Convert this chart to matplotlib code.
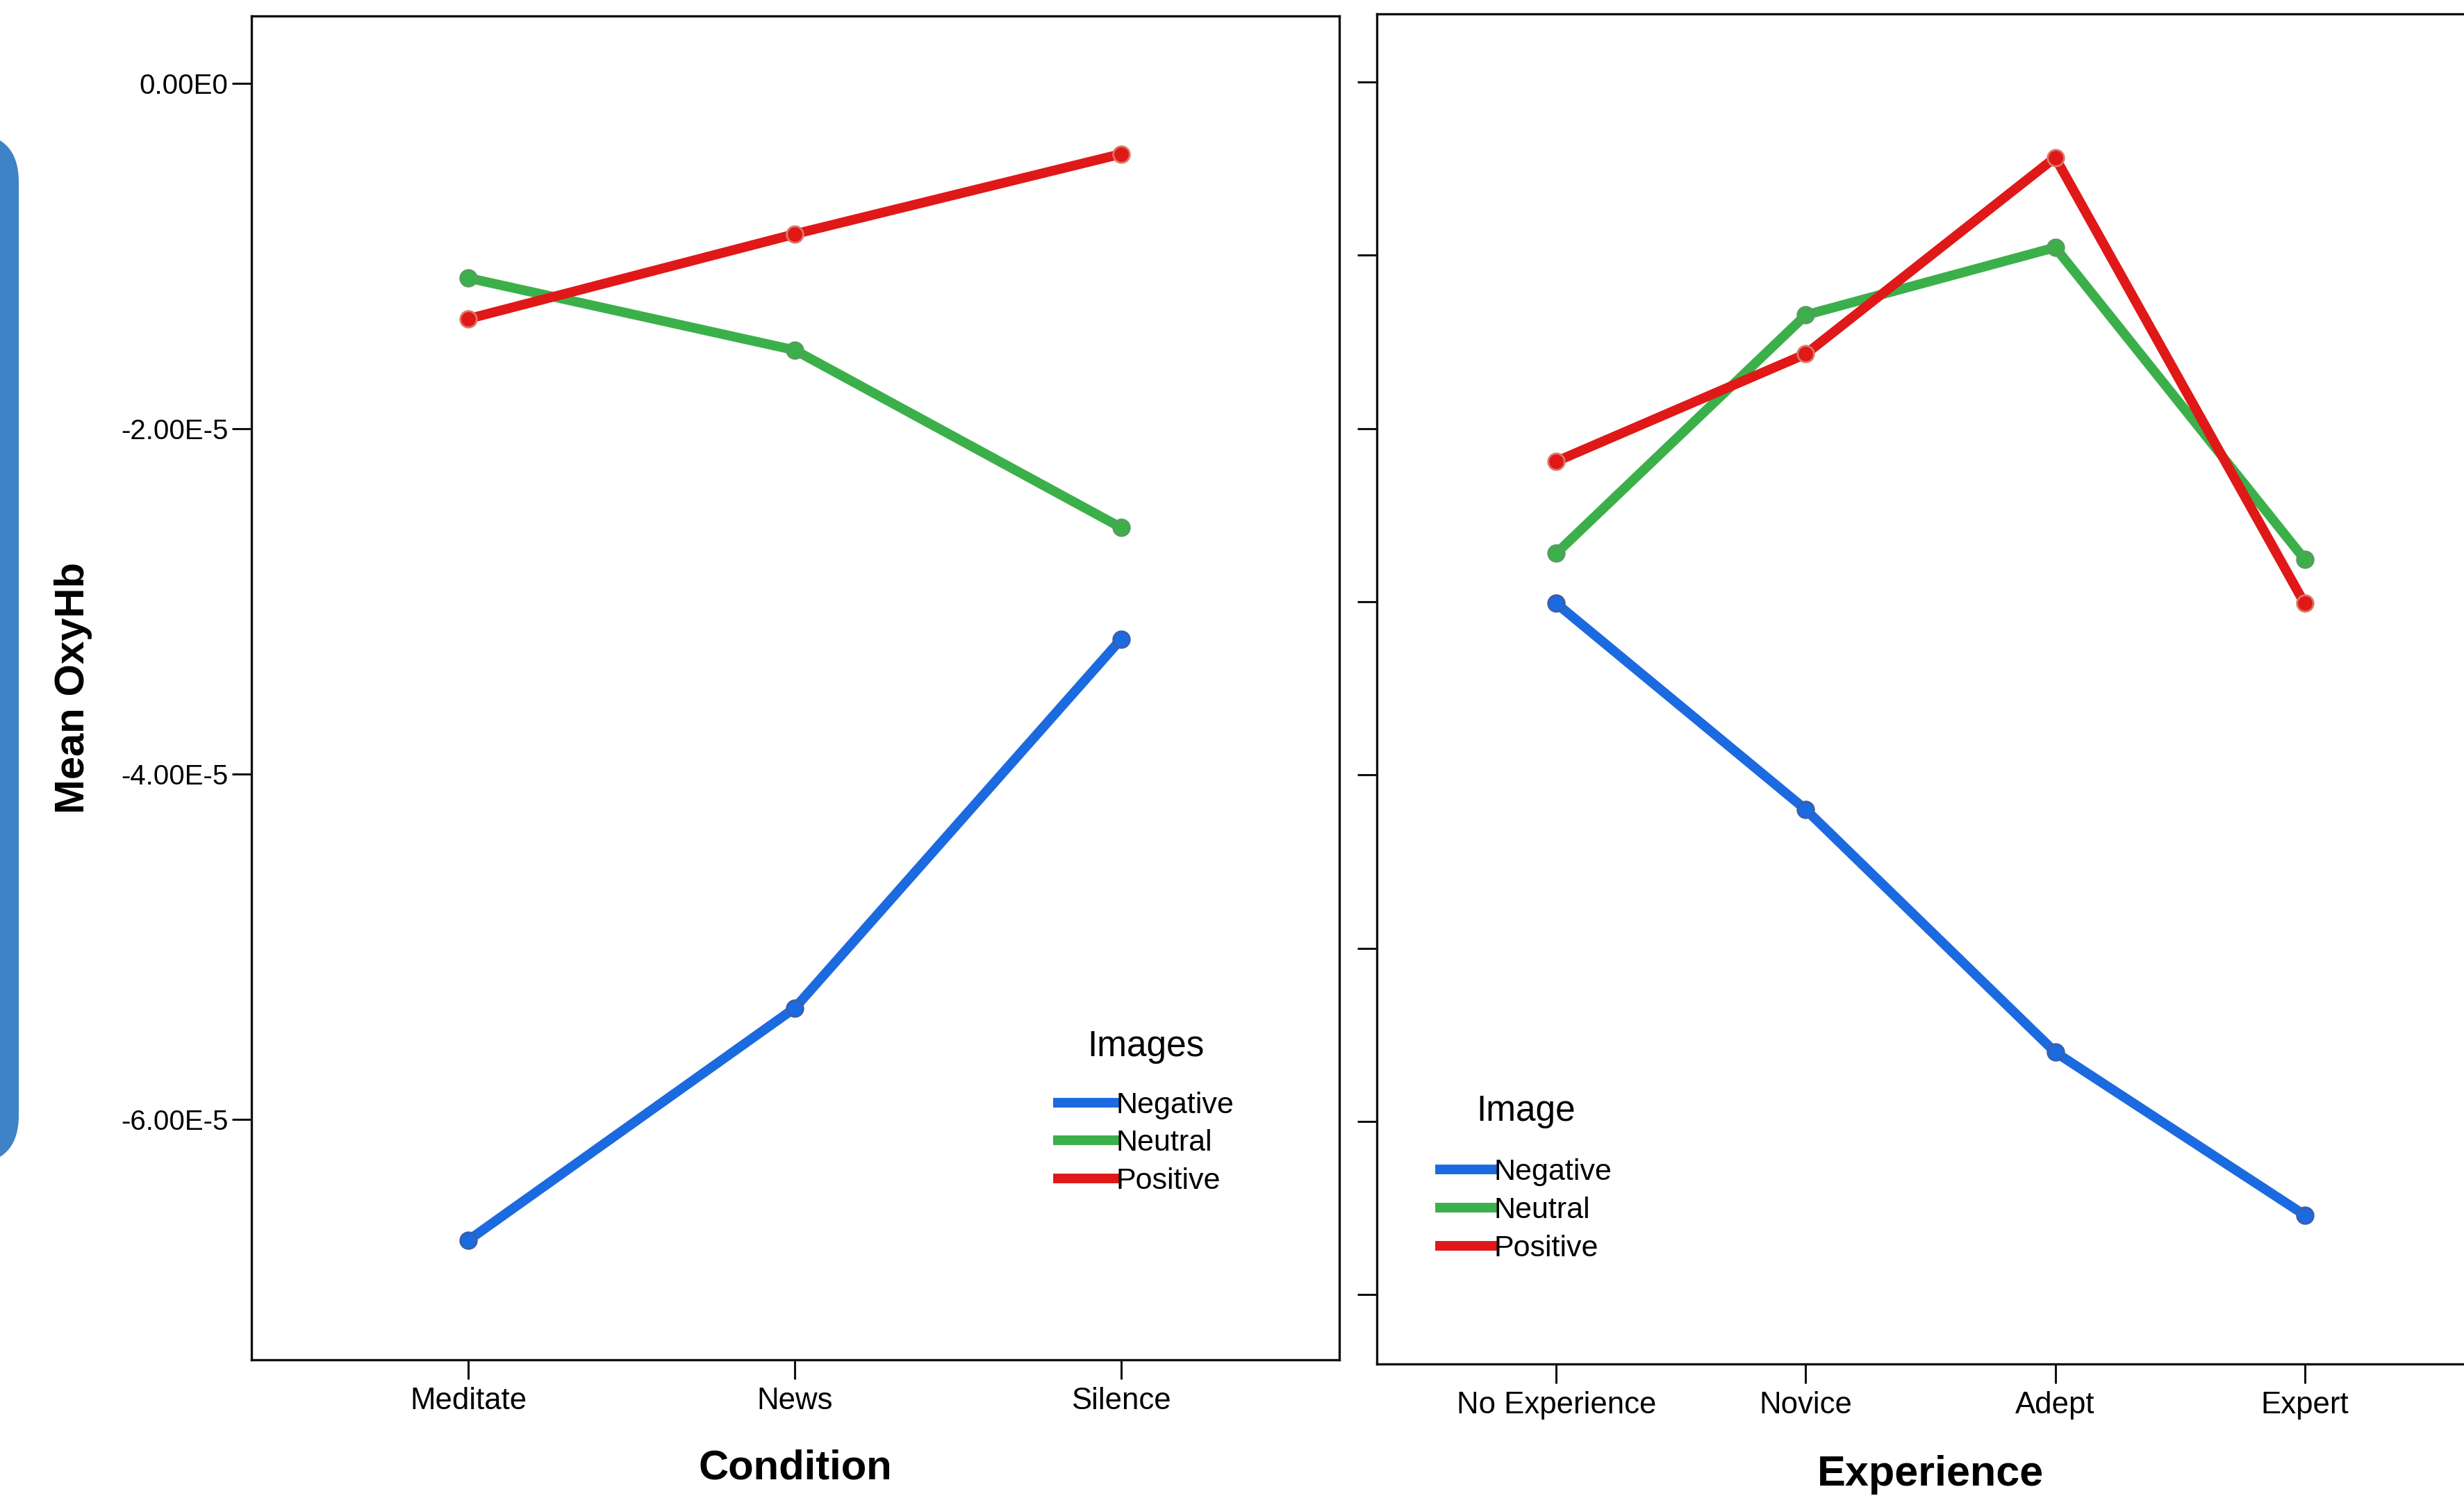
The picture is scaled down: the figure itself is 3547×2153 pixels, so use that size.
import matplotlib
matplotlib.use('Agg')
import matplotlib.pyplot as plt
from matplotlib.lines import Line2D
from matplotlib.patches import FancyBboxPatch
from matplotlib.transforms import IdentityTransform

plt.rcParams['font.family'] = ['Liberation Sans', 'DejaVu Sans']

# data (values in 1E-5 units of mean OxyHb)
conditions = ['Meditate', 'News', 'Silence']
cond_negative = [-6.70, -5.355, -3.218]
cond_neutral = [-1.127, -1.545, -2.573]
cond_positive = [-1.364, -0.873, -0.409]

experience = ['No Experience', 'Novice', 'Adept', 'Expert']
exp_negative = [-3.01, -4.20, -5.60, -6.54]
exp_neutral = [-2.72, -1.345, -0.955, -2.755]
exp_positive = [-2.19, -1.57, -0.436, -3.01]

series_names = ['Negative', 'Neutral', 'Positive']
colors = ['#1b6ae0', '#3bb04a', '#e01818']
edge_colors = ['#3a5fa8', '#5a9a62', '#d87a6a']

yticks_left = [0.0, -2e-5, -4e-5, -6e-5]
ytick_labels_left = ['0.00E0', '-2.00E-5', '-4.00E-5', '-6.00E-5']
yticks_right = [0.0, -1e-5, -2e-5, -3e-5, -4e-5, -5e-5, -6e-5, -7e-5]

W, H = 3548, 2153
fig = plt.figure(figsize=(W / 100, H / 100), dpi=100)

# blue tab on the left edge
tab = FancyBboxPatch((-150, H - 1675), 177, 1483,
                     boxstyle='round,pad=0,rounding_size=70',
                     transform=IdentityTransform(), facecolor='#3d83c5',
                     edgecolor='none')
fig.add_artist(tab)

ax1 = fig.add_axes([362 / W, 1 - 1957 / H, (1928 - 362) / W, (1957 - 23) / H])
ax2 = fig.add_axes([1982 / W, 1 - 1963 / H, 1594 / W, (1963 - 20) / H])


def draw(ax, cats, vals_list):
    x = range(len(cats))
    for vals, c, ec in zip(vals_list, colors, edge_colors):
        ys = [v * 1e-5 for v in vals]
        ax.plot(x, ys, color=c, linewidth=10, solid_capstyle='round',
                marker='o', markersize=17, markerfacecolor=c,
                markeredgecolor=ec, markeredgewidth=2)
    ax.set_xticks(list(x))
    ax.set_xticklabels(cats, fontsize=31.5)
    for sp in ax.spines.values():
        sp.set_linewidth(2.4)
        sp.set_color('#111111')
    ax.tick_params(axis='both', direction='out', length=20, width=2.2,
                   color='#111111')
    ax.tick_params(axis='x', pad=8)


draw(ax1, conditions, [cond_negative, cond_neutral, cond_positive])
ax1.set_xlim(-0.664, 2.668)
ax1.set_ylim(-7.392e-5, 0.39e-5)
ax1.set_yticks(yticks_left)
ax1.set_yticklabels(ytick_labels_left, fontsize=29)
ax1.tick_params(axis='y', pad=4)
ax1.set_xlabel('Condition', fontsize=43, fontweight='bold', labelpad=35)
ax1.set_ylabel('Mean OxyHb', fontsize=43, fontweight='bold', labelpad=30)

draw(ax2, experience, [exp_negative, exp_neutral, exp_positive])
ax2.set_xlim(-0.72, 3.72)
ax2.set_ylim(-7.40e-5, 0.393e-5)
ax2.set_yticks(yticks_right)
ax2.set_yticklabels([])
ax2.set_xlabel('Experience', fontsize=44, fontweight='bold', labelpad=37)

handles = [Line2D([], [], color=c, linewidth=10) for c in colors]

leg1 = ax1.legend(handles, series_names, title='Images', frameon=False,
                  loc='upper left', bbox_to_anchor=(1523 / W, 1 - 1482 / H),
                  bbox_transform=fig.transFigure, fontsize=31,
                  title_fontsize=37, handlelength=1.9, handletextpad=0.05,
                  labelspacing=0.33, borderpad=0, borderaxespad=0)
leg1._legend_box.sep = 29

leg2 = ax2.legend(handles, series_names, title='Image', frameon=False,
                  loc='upper left', bbox_to_anchor=(2073 / W, 1 - 1575 / H),
                  bbox_transform=fig.transFigure, fontsize=31,
                  title_fontsize=37, handlelength=1.75, handletextpad=0.05,
                  labelspacing=0.35, borderpad=0, borderaxespad=0)
leg2._legend_box.sep = 31

fig.savefig('out.png', dpi=100, facecolor='white')
